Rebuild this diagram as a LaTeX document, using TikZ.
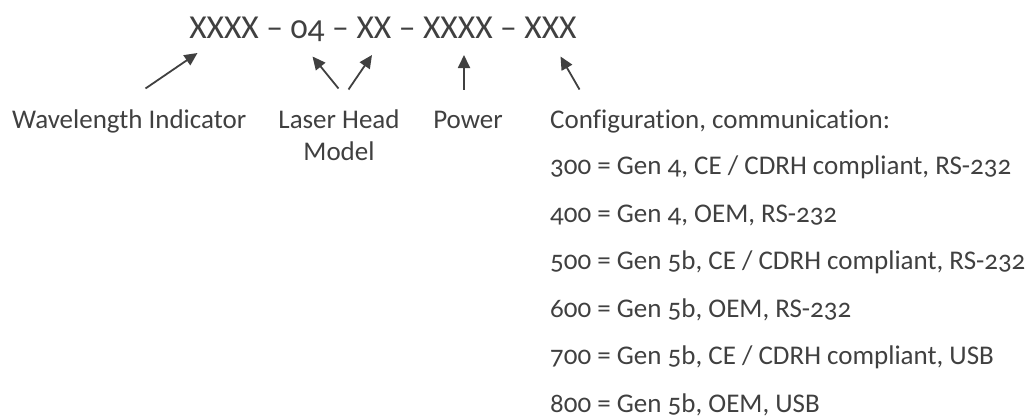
\documentclass[tikz,border=0pt]{standalone}
\usepackage{fontspec}
\setmainfont{Carlito}[Numbers=OldStyle, Ligatures=NoCommon]
\usetikzlibrary{arrows.meta}
\definecolor{ink}{HTML}{404040}

\begin{document}
\begin{tikzpicture}[x=1pt, y=-1pt, >={Triangle[length=13pt,width=12pt]},
    txt/.style={inner sep=0pt, anchor=base west, text=ink, font=\fontsize{27}{32}\selectfont},
    pointer/.style={->, line width=1.8pt, draw=ink}]
  \useasboundingbox (0,0) rectangle (1030,420);

  % Part number
  \node[txt, anchor=base, font=\fontsize{33.5}{38}\selectfont] (code) at (383,38) {XXXX -- 04 -- XX -- XXXX -- XXX};

  % Field labels
  \node[txt] (wave) at (12,128) {Wavelength Indicator};
  \node[txt, anchor=base, align=center] (head) at (339,128) {Laser Head};
  \node[txt, anchor=base] (model) at (339,160) {Model};
  \node[txt, anchor=base] (power) at (468,128) {Power};
  \node[txt] (config) at (550,128) {Configuration, communication:};

  % Configuration codes
  \foreach \val/\desc [count=\i] in {300/{Gen 4, CE / CDRH compliant, RS-232},
      400/{Gen 4, OEM, RS-232},
      500/{Gen 5b, CE / CDRH compliant, RS-232},
      600/{Gen 5b, OEM, RS-232},
      700/{Gen 5b, CE / CDRH compliant, USB},
      800/{Gen 5b, OEM, USB}}
    \node[txt] (opt\i) at (550,{127+47.5*\i}) {\val{} = \desc};

  % Arrows
  \coordinate (waveT) at (145.5,88.5);  \coordinate (waveH) at (197.5,53);
  \coordinate (headT1) at (338.5,88.5); \coordinate (headH1) at (312.5,56.5);
  \coordinate (headT2) at (348.5,89.5); \coordinate (headH2) at (372,55);
  \coordinate (powT) at (464,89.5);     \coordinate (powH) at (464,55);
  \coordinate (confT) at (579.5,89.5);  \coordinate (confH) at (560.5,56.5);
  \draw[pointer] (waveT) -- (waveH);
  \draw[pointer] (headT1) -- (headH1);
  \draw[pointer] (headT2) -- (headH2);
  \draw[pointer] (powT) -- (powH);
  \draw[pointer] (confT) -- (confH);
\end{tikzpicture}
\end{document}
